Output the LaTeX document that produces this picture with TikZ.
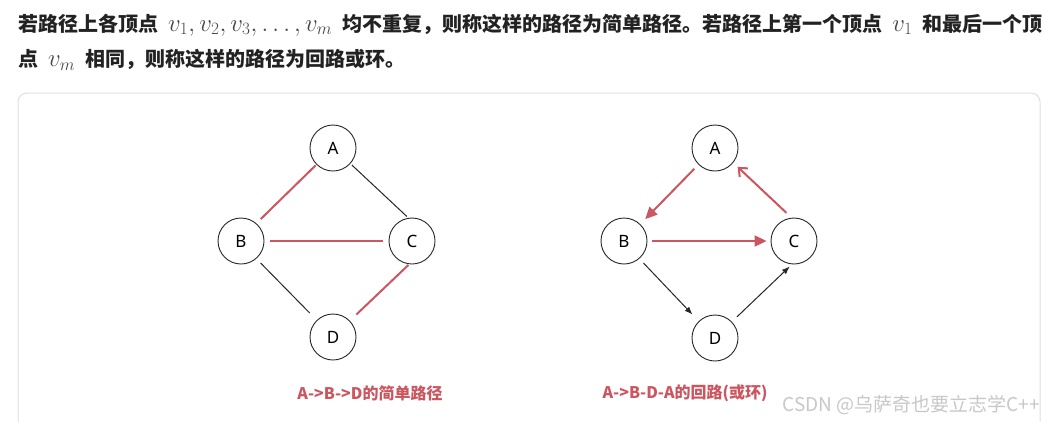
\documentclass[tikz,border=0pt]{standalone}
\usepackage{fontspec}
\setmainfont{Noto Sans}
\newfontfamily\cjk{Noto Sans CJK SC}
\usetikzlibrary{arrows.meta}
\definecolor{redline}{RGB}{204,86,96}
\definecolor{txt}{RGB}{34,34,34}
\definecolor{panel}{RGB}{224,224,224}
\definecolor{wm}{RGB}{200,200,200}
\definecolor{mathc}{RGB}{70,70,70}
\newcommand{\mth}[1]{{\fontsize{25}{25}\selectfont\color{mathc}$#1$}}
\tikzset{
  vert/.style={circle,draw=black!85,line width=0.9pt,minimum size=46pt,inner sep=0pt,font=\fontsize{17}{17}\selectfont},
  redge/.style={draw=redline,line width=2pt},
  bedge/.style={draw=black!85,line width=1pt},
  rarrow/.style={redge,-{Triangle[length=12pt,width=11pt]}},
  rarrowopen/.style={redge,-{Straight Barb[length=7pt,width=12pt]}},
  barrow/.style={bedge,-{Latex[length=8pt,width=6pt]}},
  toptext/.style={anchor=west,inner sep=0pt,text=txt,font=\cjk\bfseries\fontsize{20}{20}\selectfont},
  lbl/.style={inner sep=0pt,text=redline,font=\cjk\bfseries\fontsize{16}{16}\selectfont},
}
\begin{document}
\begin{tikzpicture}[x=1pt,y=-1pt]
\useasboundingbox[fill=white] (0,0) rectangle (1043,421);
\draw[panel,line width=1pt,rounded corners=9pt] (18,93) rectangle (1040,460);
% top text
\node[toptext] (t1) at (18,25) {若路径上各顶点\hspace{10pt}\mth{v_1,v_2,v_3,\ldots,v_m}\hspace{10pt}均不重复，则称这样的路径为简单路径。若路径上第一个顶点\hspace{10pt}\mth{v_1}\hspace{10pt}和最后一个顶};
\node[toptext] (t2) at (18,60) {点\hspace{10pt}\mth{v_m}\hspace{10pt}相同，则称这样的路径为回路或环。};
% left graph
\node[vert] (A) at (333,148) {A};
\node[vert] (B) at (241,241) {B};
\node[vert] (C) at (412,241) {C};
\node[vert] (D) at (333,337) {D};
\draw[redge,shorten <=1pt,shorten >=6pt] (A.225) -- (B.49);
\draw[bedge,shorten <=2pt,shorten >=2pt] (A.-42) -- (C.99);
\draw[redge,shorten <=6pt,shorten >=6pt] (B.east) -- (C.west);
\draw[bedge,shorten <=6pt,shorten >=10pt] (B.-49) -- (D.134);
\draw[redge,shorten <=1pt,shorten >=9pt] (C.263) -- (D.44);
\node[lbl] (L1) at (370,393) {A->B->D的简单路径};
% right graph
\node[vert] (A2) at (715,148) {A};
\node[vert] (B2) at (624,241) {B};
\node[vert] (C2) at (794,241) {C};
\node[vert] (D2) at (715,338) {D};
\draw[rarrow,shorten <=6pt,shorten >=7pt] (A2.225) -- (B2.46);
\draw[rarrow,shorten <=5pt,shorten >=4pt] (B2.east) -- (C2.west);
\draw[rarrowopen,shorten <=7pt,shorten >=6pt] (C2.96) -- (A2.-39);
\draw[barrow,shorten <=6pt,shorten >=9pt] (B2.-49) -- (D2.134);
\draw[barrow,shorten <=7pt,shorten >=3pt] (D2.44) -- (C2.265);
\node[lbl] (L2) at (685,393) {A->B-D-A的回路(或环)};
\node[anchor=east,inner sep=0pt,text=wm,font=\cjk\fontsize{19}{19}\selectfont] (wm) at (1040,405) {CSDN @乌萨奇也要立志学C++};
\end{tikzpicture}
\end{document}
